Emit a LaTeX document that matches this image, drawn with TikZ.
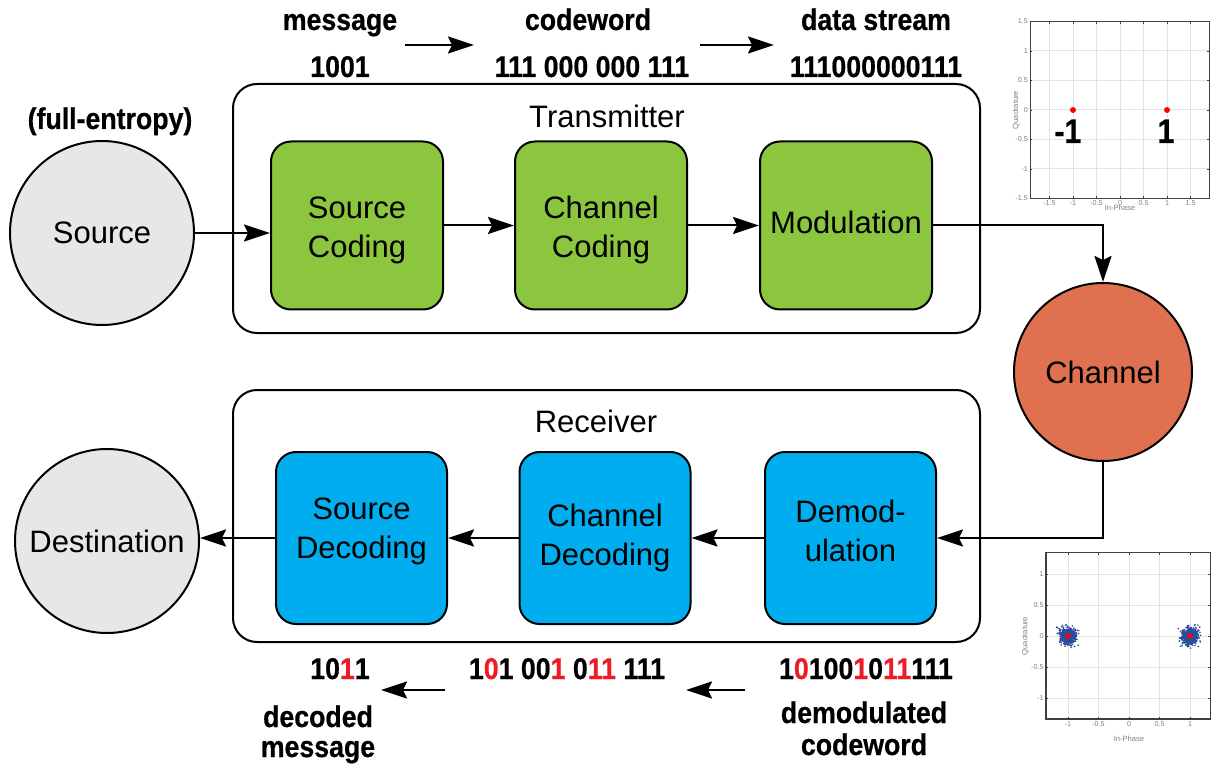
\documentclass[tikz,border=0pt]{standalone}
\usepackage{fontspec}
\setmainfont{Liberation Sans}
\newfontfamily\labelfont{Liberation Sans}[FakeStretch=0.89, BoldFeatures={FakeBold=0.6}]
\usetikzlibrary{arrows.meta}

\definecolor{txgreen}{HTML}{8CC63F}
\definecolor{rxblue}{HTML}{00AEEF}
\definecolor{chorange}{HTML}{DF7150}
\definecolor{endgray}{HTML}{E6E7E8}
\definecolor{biterr}{HTML}{ED1C24}
\definecolor{scatterblue}{HTML}{2B4C9B}
\definecolor{framegray}{HTML}{404040}
\newcommand\flip[1]{\textcolor{biterr}{#1}}
% shift text up/down without changing the size the node sees
\newcommand\nudge[2]{\raisebox{#1}[\height][\depth]{#2}}
\newcommand\twolines[3]{\nudge{#1}{\begin{tabular}{@{}c@{}}#2\\#3\end{tabular}}}

\tikzset{
  arr/.style={line width=1pt, -{Stealth[length=13pt,width=8.5pt,inset=2pt]}},
  endpoint/.style={circle, draw, line width=1pt, fill=endgray, minimum size=92pt,
    inner sep=0pt, font=\fontsize{15.5}{19.5}\selectfont},
  block/.style={draw, line width=1pt, rounded corners=10pt, minimum width=86pt,
    minimum height=84pt, align=center, inner sep=0pt, font=\fontsize{15.5}{19.5}\selectfont},
  group/.style={draw, line width=1pt, rounded corners=12pt, minimum width=373.5pt, inner sep=0pt},
  caption/.style={font=\fontsize{15.5}{19.5}\selectfont, anchor=base, inner sep=0pt},
  bits/.style={font=\labelfont\bfseries\fontsize{15}{18}\selectfont, anchor=base, inner sep=0pt},
  symbol/.style={font=\labelfont\bfseries\fontsize{17}{19}\selectfont, inner sep=0pt},
  tick/.style={font=\fontsize{3.6}{4.2}\selectfont, text=gray, inner sep=1pt},
  axlabel/.style={font=\fontsize{3.8}{4.5}\selectfont, text=gray, inner sep=0pt},
  gridline/.style={gray!22, line width=0.5pt},
  axisframe/.style={framegray, line width=0.7pt},
}

\begin{document}
\begin{tikzpicture}[x=0.5pt,y=-0.5pt]
\useasboundingbox (0,0) rectangle (1212,765);

% transmitter and receiver groups
\node[group, minimum height=124.5pt] (tx) at (606.5,208.5) {};
\node[group, minimum height=126pt] (rx) at (606.5,516) {};
\node[caption] (txl) at (607,128) {Transmitter};
\node[caption] (rxl) at (596,432) {Receiver};

% end points and channel
\node[endpoint] (src) at (102,233) {Source};
\node[endpoint] (dst) at (107,541) {Destination};
\node[endpoint, fill=chorange, minimum size=89pt] (ch) at (1103,372) {Channel};

% transmitter blocks
\node[block, fill=txgreen] (sc) at (357,225.5) {\twolines{-2.5pt}{Source}{Coding}};
\node[block, fill=txgreen] (cc) at (601,225.5) {\twolines{-2.5pt}{Channel}{Coding}};
\node[block, fill=txgreen] (mod) at (846,225.5) {\nudge{1.5pt}{Modulation}};

% receiver blocks
\node[block, fill=rxblue, minimum width=85.5pt, minimum height=86pt] (sd) at (361.5,538) {\twolines{3.5pt}{Source}{Decoding}};
\node[block, fill=rxblue, minimum width=85.5pt, minimum height=86pt] (cd) at (605,538) {\twolines{0pt}{Channel}{Decoding}};
\node[block, fill=rxblue, minimum width=85.5pt, minimum height=86pt] (dm) at (850.5,538) {\twolines{2pt}{Demod-}{ulation}};

% signal path
\draw[arr] (src.east) -- (src.east -| sc.west);
\draw[arr] (sc) -- (cc);
\draw[arr] (cc) -- (mod);
\draw[arr] (mod.east) -| (ch.north);
\draw[arr] (ch.south) |- (dm.east);
\draw[arr] (dm) -- (cd);
\draw[arr] (cd) -- (sd);
\draw[arr] (sd.west) -- (sd.west -| dst.east);

% bit strings, transmit side
\node[bits] (fe) at (110,129) {(full-entropy)};
\node[bits] (msg) at (340,30) {message};
\node[bits] (msgv) at (340,77) {1001};
\node[bits] (cw) at (588,30) {codeword};
\node[bits] (cwv) at (592,77) {111 000 000 111};
\node[bits] (ds) at (876,30) {data stream};
\node[bits] (dsv) at (876,77) {111000000111};
\coordinate (t1a) at (405,45);
\coordinate (t1b) at (474,45);
\coordinate (t2a) at (700,45);
\coordinate (t2b) at (774,45);
\draw[arr] (t1a) -- (t1b);
\draw[arr] (t2a) -- (t2b);

% bit strings, receive side
\node[bits] (decv) at (340,679) {10\flip{1}1};
\node[bits] (cdv) at (567,679) {1\flip{0}1 00\flip{1} 0\flip{11} 111};
\node[bits] (rxv) at (866,679) {1\flip{0}100\flip{1}0\flip{11}111};
\node[bits] (dec1) at (318,727) {decoded};
\node[bits] (dec2) at (318,757) {message};
\node[bits] (dmo1) at (864,723) {demodulated};
\node[bits] (dmo2) at (864,755) {codeword};
\coordinate (b1a) at (445,690);
\coordinate (b1b) at (381,690);
\coordinate (b2a) at (745,690);
\coordinate (b2b) at (686,690);
\draw[arr] (b1a) -- (b1b);
\draw[arr] (b2a) -- (b2b);

% BPSK constellation, transmitted
\begin{scope}[shift={(1120,110)}, x=23.5pt, y=29.5pt]
  \fill[white] (-1.91,-1.5) rectangle (1.9,1.5);
  \foreach \v in {-1.5,-1,-0.5,0,0.5,1,1.5} {
    \draw[gridline] (\v,-1.5) -- (\v,1.5);
    \draw[gridline] (-1.91,\v) -- (1.9,\v);
    \node[tick, anchor=east] at (-1.91,\v) {\v};
    \node[tick, anchor=north] at (\v,-1.5) {\v};
    \draw[framegray, line width=0.3pt] (\v,-1.5) -- ++(0,0.04) (\v,1.5) -- ++(0,-0.04);
    \draw[framegray, line width=0.3pt] (-1.91,\v) -- ++(0.04,0) (1.9,\v) -- ++(-0.04,0);
  }
  \draw[axisframe] (-1.91,-1.5) rectangle (1.9,1.5);
  \fill[red] (-1,0) circle (1.5pt);
  \fill[red] (1,0) circle (1.5pt);
  \node[symbol] (sm) at (-1.11,-0.36) {-1};
  \node[symbol] (sp) at (0.98,-0.36) {1};
  \node[axlabel, rotate=90] at (-2.21,0) {Quadrature};
  \node[axlabel] at (0,-1.66) {In-Phase};
\end{scope}

% BPSK constellation, received with noise
\begin{scope}[shift={(1129,636)}, x=30.5pt, y=31pt]
  \fill[white] (-1.36,-1.34) rectangle (1.34,1.35);
  \foreach \v in {-1,-0.5,0,0.5,1} {
    \draw[gridline] (\v,-1.34) -- (\v,1.35);
    \draw[gridline] (-1.36,\v) -- (1.34,\v);
    \node[tick, anchor=east] at (-1.36,\v) {\v};
    \node[tick, anchor=north] at (\v,-1.34) {\v};
    \draw[framegray, line width=0.3pt] (\v,-1.34) -- ++(0,0.04) (\v,1.35) -- ++(0,-0.04);
    \draw[framegray, line width=0.3pt] (-1.36,\v) -- ++(0.04,0) (1.34,\v) -- ++(-0.04,0);
  }
  \pgfmathsetseed{42}
  \foreach \c in {-1,1} {
    \foreach \i in {1,...,700} {
      \pgfmathsetmacro\dx{0.055*(rand+rand+rand+rand)}
      \pgfmathsetmacro\dy{0.055*(rand+rand+rand+rand)}
      \fill[scatterblue] (\c+\dx,\dy) circle (0.45pt);
    }
  }
  \draw[axisframe] (-1.36,-1.34) rectangle (1.34,1.35);
  \fill[red] (-1,0) circle (1.3pt);
  \fill[red] (1,0) circle (1.3pt);
  \node[axlabel, rotate=90] at (-1.70,0) {Quadrature};
  \node[axlabel] at (0,-1.65) {In-Phase};
\end{scope}
\end{tikzpicture}
\end{document}
